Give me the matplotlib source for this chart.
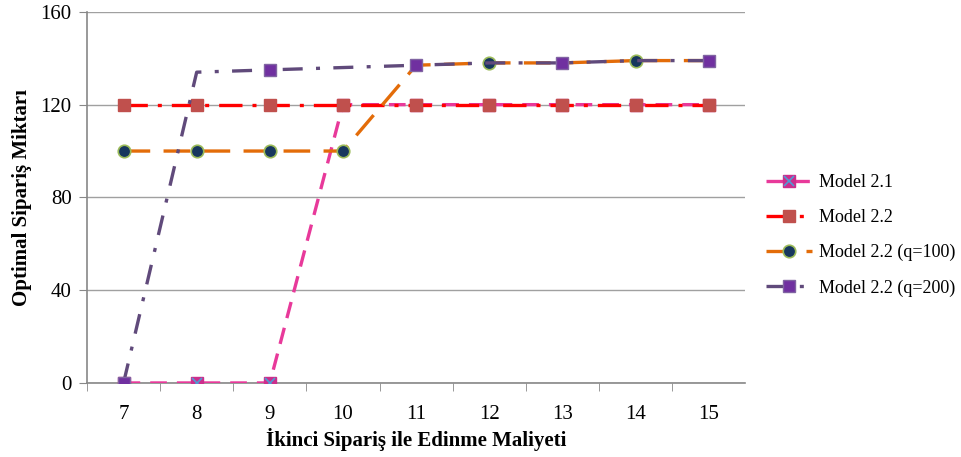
import matplotlib
matplotlib.use("Agg")
import matplotlib.pyplot as plt
from matplotlib.legend_handler import HandlerTuple

plt.rcParams['font.family'] = ['Liberation Serif', 'DejaVu Serif']

maliyet = [7, 8, 9, 10, 11, 12, 13, 14, 15]
model_21 = [0, 0, 0, 120, 120, 120, 120, 120, 120]
model_22 = [120, 120, 120, 120, 120, 120, 120, 120, 120]
model_22_q100 = [100, 100, 100, 100, 137, 138, 138, 139, 139]
model_22_q200 = [0, 134, 135, 136, 137, 138, 138, 139, 139]
y_ticks = [0, 40, 80, 120, 160]

# points that carry a marker on the two q-series
q100_marks = [0, 1, 2, 3, 5, 7]
q200_marks = [0, 2, 4, 6, 8]

fig = plt.figure(figsize=(9.61, 4.57), dpi=100)
ax = fig.add_axes([0.0905, 0.162, 0.685, 0.812])

lw = 2.4
l21, = ax.plot(maliyet, model_21, color='#E8399A', lw=lw, dashes=(5, 3),
               marker='s', ms=8, mfc='#CC2E8C', mec='#CC2E8C', zorder=3)
x21, = ax.plot(maliyet, model_21, ls='none', marker='x', ms=7, mew=1.2,
               color='#4F9BD5', zorder=3.1)
l22, = ax.plot(maliyet, model_22, color='#FF0000', lw=lw,
               dashes=(7, 3, 1.2, 3), marker='s', ms=9,
               mfc='#C0504D', mec='#C0504D', zorder=4)
l100, = ax.plot(maliyet, model_22_q100, color='#E36C09', lw=lw, dashes=(8, 4),
                marker='o', ms=9, mfc='#17375E', mec='#9BBB59', mew=1.2,
                markevery=q100_marks, zorder=5)
l200, = ax.plot(maliyet, model_22_q200, color='#604A7B', lw=lw,
                dashes=(6, 4, 1.2, 4), marker='s', ms=9,
                mfc='#7030A0', mec='#8064A2', mew=1.0,
                markevery=q200_marks, zorder=6)

ax.set_xlim(6.5, 15.5)
ax.set_ylim(0, 160)
ax.set_yticks(y_ticks)
ax.set_xticks(maliyet)
ax.set_xticks([m + 0.5 for m in maliyet[:-1]] + [6.5], minor=True)
ax.tick_params(axis='x', which='major', length=0, pad=16, labelsize=15)
ax.tick_params(axis='x', which='minor', length=6, color='#888888', direction='out')
ax.tick_params(axis='y', length=6, color='#888888', direction='out', labelsize=15, pad=5)

ax.grid(axis='y', color='#A0A0A0', lw=1)
ax.set_axisbelow(True)
for side in ('top', 'right'):
    ax.spines[side].set_visible(False)
for side in ('left', 'bottom'):
    ax.spines[side].set_color('#888888')
    ax.spines[side].set_linewidth(1.2)

ax.set_xlabel('İkinci Sipariş ile Edinme Maliyeti', fontsize=15, fontweight='bold', labelpad=3)
ax.set_ylabel('Optimal Sipariş Miktarı', fontsize=15, fontweight='bold', labelpad=6)

fig.legend([(l21, x21), l22, l100, l200],
           ['Model 2.1', 'Model 2.2', 'Model 2.2 (q=100)', 'Model 2.2 (q=200)'],
           handler_map={tuple: HandlerTuple(ndivide=1)},
           loc='upper left', bbox_to_anchor=(0.780, 0.655), frameon=False,
           fontsize=13, handlelength=2.55, labelspacing=1.0, handletextpad=0.4)

fig.savefig('out.png', dpi=100)
